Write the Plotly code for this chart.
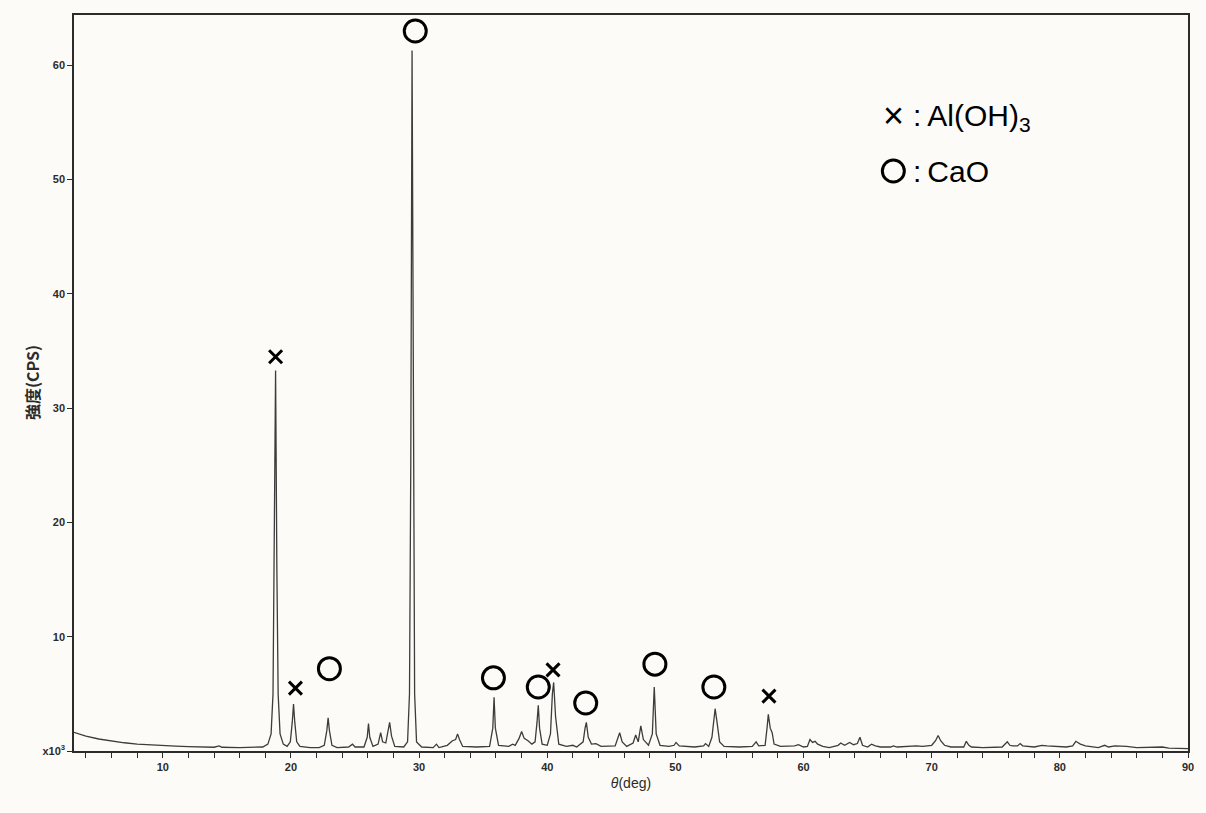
import plotly.graph_objects as go

# XRD pattern: 2θ (deg) vs intensity (x10^3 CPS), vertices
two_theta = [
    3.0, 3.5, 4.0, 5.0, 6.0, 7.0, 8.0, 9.0, 10.0, 11.0, 12.0, 13.0, 14.0, 14.4, 14.6, 16.0, 17.0,
    17.8, 18.2, 18.45, 18.6, 18.7, 18.8, 18.9, 19.0, 19.15, 19.4, 19.7, 19.95, 20.1, 20.2, 20.3,
    20.45, 20.7, 21.5, 22.2, 22.6, 22.8, 22.9, 23.0, 23.2, 23.6, 24.5, 24.8, 25.0, 25.7, 25.95,
    26.05, 26.15, 26.4, 26.8, 27.0, 27.15, 27.4, 27.6, 27.7, 27.85, 28.1, 28.8, 29.1, 29.25,
    29.35, 29.45, 29.55, 29.65, 29.8, 30.2, 31.1, 31.35, 31.55, 32.2, 32.6, 32.85, 33.0, 33.15,
    33.4, 34.5, 35.5, 35.75, 35.85, 35.95, 36.2, 37.0, 37.3, 37.5, 37.8, 38.0, 38.2, 38.5, 38.8,
    39.05, 39.2, 39.3, 39.4, 39.6, 40.0, 40.25, 40.4, 40.5, 40.65, 40.9, 41.5, 42.0, 42.3, 42.8,
    42.95, 43.05, 43.2, 43.45, 43.8, 44.2, 45.3, 45.55, 45.65, 45.85, 46.2, 46.7, 46.9, 47.1,
    47.3, 47.5, 47.9, 48.2, 48.35, 48.5, 48.8, 49.5, 49.9, 50.05, 50.3, 51.5, 52.2, 52.35, 52.6,
    52.85, 53.0, 53.1, 53.25, 53.45, 53.8, 55.0, 56.0, 56.3, 56.5, 57.0, 57.15, 57.25, 57.4,
    57.55, 57.7, 58.2, 59.3, 59.6, 60.0, 60.3, 60.5, 60.7, 60.9, 61.1, 61.5, 62.0, 62.7, 62.9,
    63.2, 63.6, 63.9, 64.2, 64.4, 64.6, 65.0, 65.3, 65.6, 66.0, 66.8, 67.0, 67.3, 68.5, 68.8,
    69.3, 70.0, 70.3, 70.5, 70.7, 71.0, 71.5, 72.5, 72.7, 72.9, 73.1, 74.0, 75.5, 75.9, 76.1,
    76.3, 76.7, 76.9, 77.1, 78.0, 78.6, 79.0, 80.5, 81.0, 81.25, 81.6, 82.0, 83.0, 83.5, 83.8,
    84.3, 84.7, 85.2, 86.0, 87.5, 88.0, 88.5, 90.0,
]
intensity = [
    1.65, 1.45, 1.3, 1.05, 0.87, 0.72, 0.6, 0.52, 0.46, 0.42, 0.38, 0.35, 0.33, 0.45, 0.33, 0.3, 0.3,
    0.35, 0.6, 1.5, 5.0, 16.0, 33.3, 16.0, 5.0, 1.5, 0.6, 0.4, 0.8, 2.5, 4.1, 2.5,
    0.8, 0.4, 0.3, 0.3, 0.5, 1.8, 2.9, 1.8, 0.5, 0.3, 0.35, 0.6, 0.35, 0.35, 1.2,
    2.4, 1.2, 0.4, 0.6, 1.6, 0.8, 0.7, 2.0, 2.5, 1.3, 0.4, 0.35, 0.8, 5.0,
    25.0, 61.3, 25.0, 5.0, 0.8, 0.35, 0.3, 0.6, 0.3, 0.5, 0.9, 1.0, 1.5, 1.0,
    0.4, 0.35, 0.4, 2.0, 4.7, 2.0, 0.5, 0.4, 0.6, 0.5, 1.1, 1.7, 1.1, 0.9, 0.6,
    0.8, 2.5, 4.0, 2.0, 0.6, 0.5, 1.5, 5.0, 6.0, 3.0, 0.6, 0.4, 0.5, 0.35, 0.8,
    2.0, 2.5, 1.2, 0.6, 0.65, 0.4, 0.45, 1.3, 1.6, 0.8, 0.4, 0.7, 1.4, 0.8,
    2.2, 1.0, 0.5, 1.5, 5.6, 1.5, 0.5, 0.4, 0.5, 0.75, 0.45, 0.35, 0.45, 0.65, 0.4,
    1.2, 3.0, 3.7, 2.5, 0.8, 0.4, 0.35, 0.4, 0.8, 0.45, 0.5, 2.0, 3.2, 2.0,
    1.6, 0.6, 0.4, 0.45, 0.55, 0.35, 0.4, 1.0, 0.75, 0.85, 0.6, 0.4, 0.3, 0.5, 0.7,
    0.5, 0.75, 0.55, 0.65, 1.2, 0.5, 0.35, 0.6, 0.45, 0.35, 0.35, 0.45, 0.35, 0.4, 0.45,
    0.4, 0.5, 0.9, 1.35, 0.9, 0.5, 0.35, 0.35, 0.85, 0.5, 0.35, 0.3, 0.35, 0.8, 0.5,
    0.45, 0.45, 0.65, 0.45, 0.35, 0.5, 0.45, 0.35, 0.45, 0.85, 0.6, 0.45, 0.3, 0.5, 0.35,
    0.45, 0.45, 0.4, 0.3, 0.3, 0.35, 0.25, 0.2,
]

# Phase identification marks placed above the assigned reflections
al_oh3_x = [18.8, 20.35, 40.45, 57.3]
al_oh3_y = [34.5, 5.5, 7.1, 4.8]
cao_x = [23.0, 29.7, 35.8, 39.3, 43.0, 48.4, 53.0]
cao_y = [7.2, 63.0, 6.4, 5.6, 4.2, 7.6, 5.6]

y_tick_vals = [0, 10, 20, 30, 40, 50, 60]
y_tick_text = ["x10<sup>3</sup>", "10", "20", "30", "40", "50", "60"]

BG = "#fcfbf7"
INK = "#2b2b2b"

fig = go.Figure()

fig.add_trace(go.Scatter(
    x=two_theta, y=intensity, mode="lines",
    line=dict(color="#3c3c3c", width=1.3),
    showlegend=False, hoverinfo="x+y",
))

fig.add_trace(go.Scatter(
    x=al_oh3_x, y=al_oh3_y, mode="markers",
    marker=dict(symbol="x-thin", size=13, color="black",
                line=dict(color="black", width=3)),
    showlegend=False, cliponaxis=False,
))

fig.add_trace(go.Scatter(
    x=cao_x, y=cao_y, mode="markers",
    marker=dict(symbol="circle-open", size=22, color="black",
                line=dict(color="black", width=3)),
    showlegend=False, cliponaxis=False,
))

tick_font = dict(family="Liberation Sans, Arial, sans-serif", size=11, color=INK, weight="bold")

fig.update_layout(
    width=1206, height=813,
    autosize=False,
    margin=dict(l=74, r=16, t=15, b=62),
    paper_bgcolor=BG, plot_bgcolor=BG,
    showlegend=False,
    xaxis=dict(
        range=[3.07, 90], tickmode="linear", tick0=0, dtick=10,
        ticks="outside", ticklen=5, tickwidth=1.2, tickcolor=INK,
        minor=dict(dtick=2, tick0=0, ticks="outside", ticklen=5, tickwidth=1.2, tickcolor=INK),
        showline=True, linecolor=INK, linewidth=1.5, mirror=True,
        showgrid=False, zeroline=False,
        tickfont=tick_font,
        title=dict(text="<i>θ</i>(deg)", standoff=6,
                   font=dict(family="Liberation Sans, Arial, sans-serif", size=14, color=INK)),
    ),
    yaxis=dict(
        range=[0, 64.4], tickmode="array", tickvals=y_tick_vals, ticktext=y_tick_text,
        ticks="outside", ticklen=5, tickwidth=1.2, tickcolor=INK,
        showline=True, linecolor=INK, linewidth=1.5, mirror=True,
        showgrid=False, zeroline=False,
        tickfont=tick_font,
    ),
)

# Vertical axis title
fig.add_annotation(xref="paper", yref="paper", x=-0.0376, y=0.5, text="強度(CPS)",
                   textangle=-90, showarrow=False, xanchor="center", yanchor="middle",
                   font=dict(family="Noto Sans CJK JP, sans-serif", size=16, color=INK, weight="bold"))

# Key for the phase marks
label_font = dict(family="Liberation Sans, Arial, sans-serif", size=30, color="black")
fig.add_annotation(xref="paper", yref="paper", x=0.7355, y=0.863, text="×",
                   showarrow=False, xanchor="center", yanchor="middle",
                   font=dict(family="Liberation Sans, Arial, sans-serif", size=36, color="black"))
fig.add_annotation(xref="paper", yref="paper", x=0.751, y=0.861, text=":\u2009Al(OH)<sub>3</sub>",
                   showarrow=False, xanchor="left", yanchor="middle", font=label_font)
fig.add_shape(type="circle", xref="paper", yref="paper",
              xsizemode="pixel", ysizemode="pixel",
              xanchor=0.7355, yanchor=0.788, x0=-11, x1=11, y0=-11, y1=11,
              line=dict(color="black", width=3))
fig.add_annotation(xref="paper", yref="paper", x=0.751, y=0.788, text=":\u2009CaO",
                   showarrow=False, xanchor="left", yanchor="middle", font=label_font)

fig.write_html("out.html")
